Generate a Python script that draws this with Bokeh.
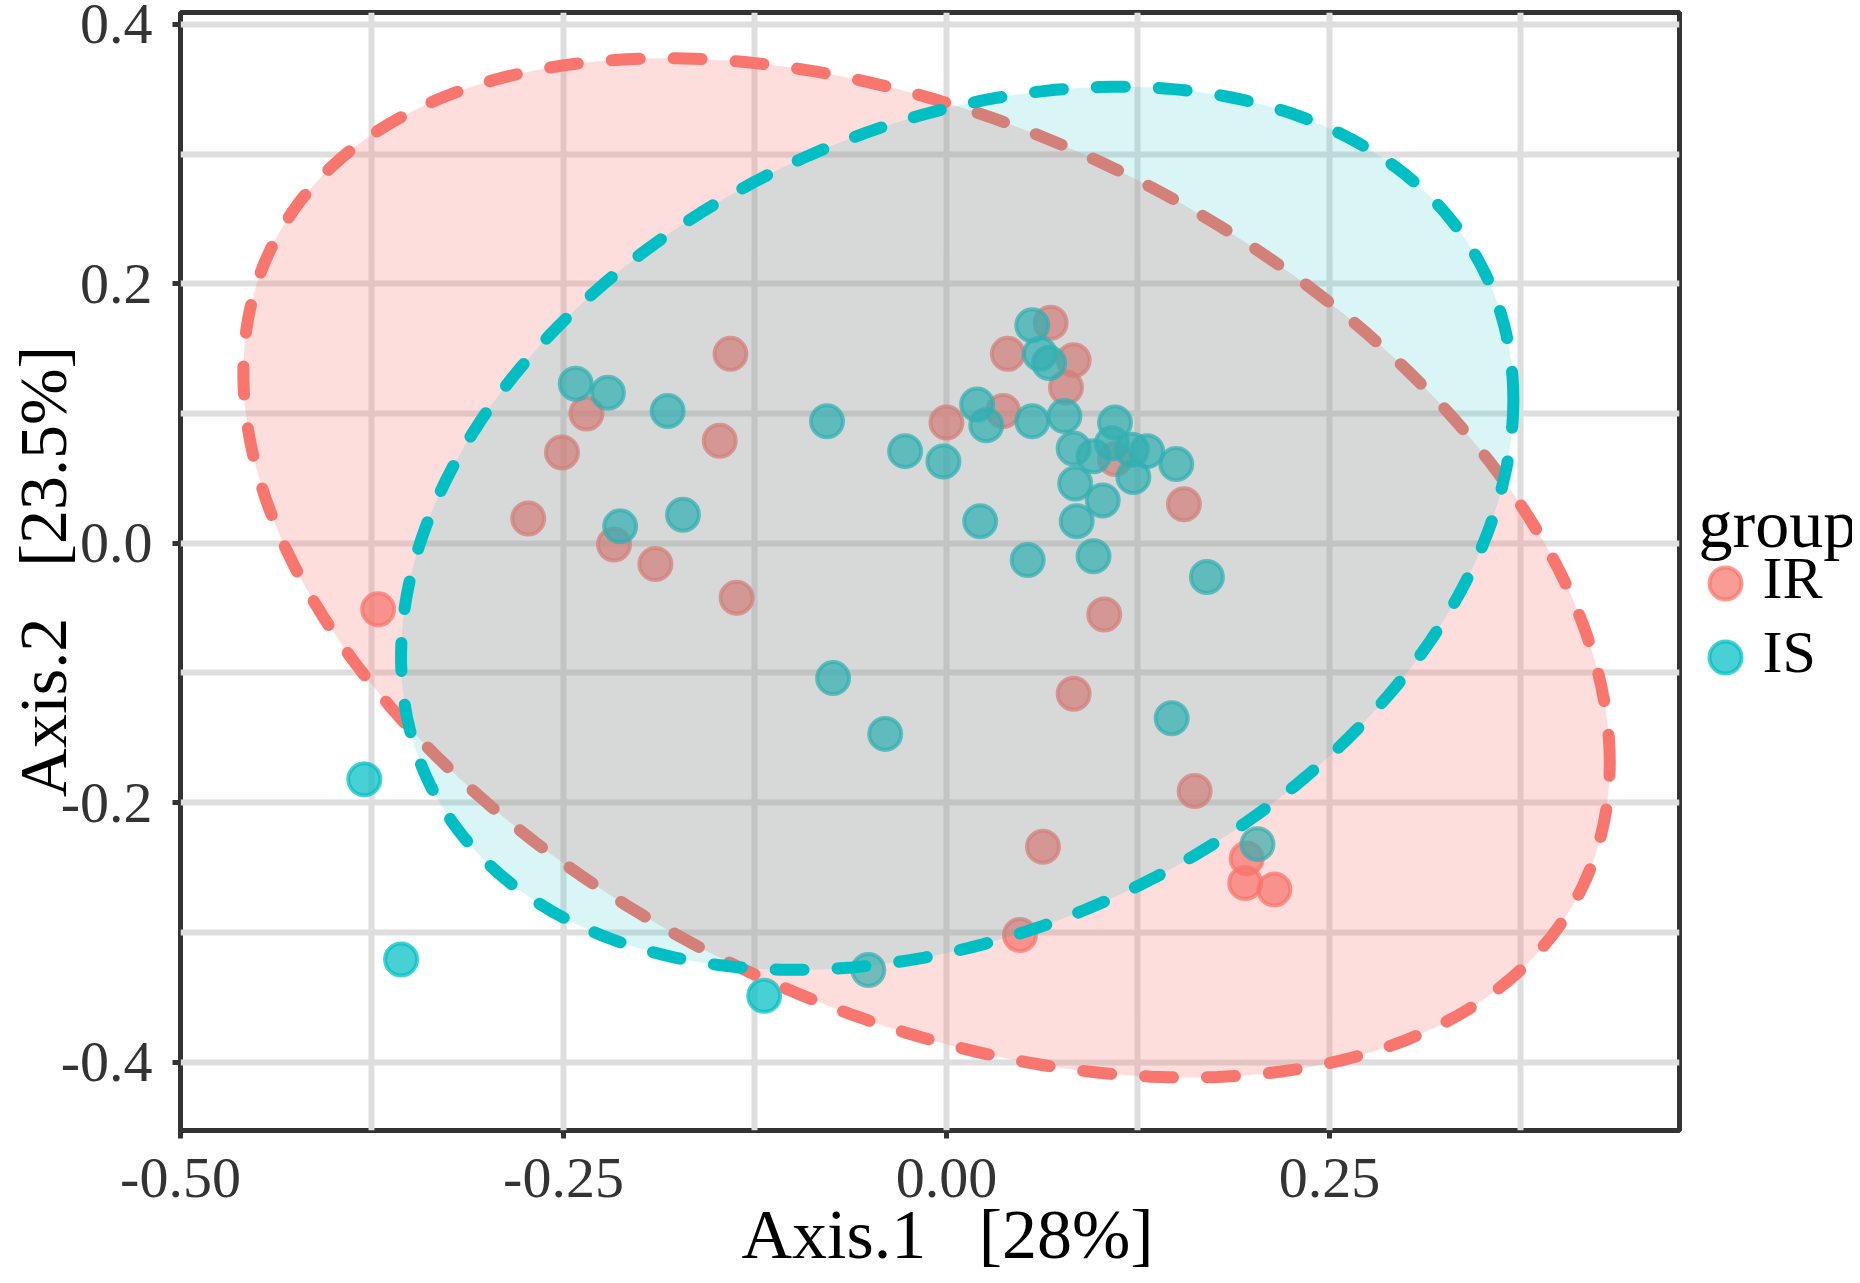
import numpy as np
from bokeh.plotting import figure
from bokeh.layouts import row
from bokeh.models import FixedTicker, PrintfTickFormatter, Range1d
from bokeh.core.properties import value
from bokeh.embed import file_html
from bokeh.resources import INLINE

# ---------------- data ----------------
groups = ["IR", "IS"]
group_colors = ["#F8766D", "#00BFC4"]

ir_x = [-0.371, -0.273, -0.251, -0.235, -0.217, -0.190, -0.148, -0.141, -0.137,
        0.000, 0.037, 0.040, 0.068, 0.083, 0.078, 0.103, 0.083, 0.155, 0.162,
        0.063, 0.048, 0.196, 0.195, 0.214, 0.110]
ir_y = [-0.051, 0.019, 0.070, 0.100, -0.001, -0.016, 0.079, 0.146, -0.042,
        0.093, 0.102, 0.146, 0.170, 0.141, 0.120, -0.055, -0.116, 0.030, -0.191,
        -0.234, -0.302, -0.243, -0.262, -0.267, 0.065]

is_x = [-0.380, -0.356, -0.242, -0.221, -0.182, -0.213, -0.172, -0.078, -0.027,
        -0.002, 0.020, 0.026, 0.022, 0.056, 0.061, 0.067, 0.056, 0.077, 0.083,
        0.096, 0.108, 0.121, 0.131, 0.110, 0.122, 0.150, 0.084, 0.102, 0.085,
        0.053, 0.096, 0.170, 0.147, 0.203, -0.074, -0.040, -0.051, -0.119]
is_y = [-0.182, -0.321, 0.123, 0.116, 0.102, 0.013, 0.022, 0.094, 0.071,
        0.063, 0.107, 0.091, 0.017, 0.168, 0.146, 0.139, 0.094, 0.098, 0.073,
        0.067, 0.077, 0.072, 0.071, 0.093, 0.051, 0.061, 0.046, 0.033, 0.017,
        -0.013, -0.010, -0.026, -0.135, -0.232, -0.104, -0.147, -0.329, -0.349]

# confidence ellipses: centre and shape matrix (var_x, cov_xy, var_y)
ir_center = [-0.013, -0.019]
ir_shape = [0.1989, -0.067, 0.1544]
is_center = [0.007, 0.0115]
is_shape = [0.1318, 0.036, 0.1159]

x_ticks = [-0.5, -0.25, 0.0, 0.25]
x_minor = [-0.375, -0.125, 0.125, 0.375]
y_ticks = [-0.4, -0.2, 0.0, 0.2, 0.4]
y_minor = [-0.3, -0.1, 0.1, 0.3]
x_title = "\u00a0\u00a0Axis.1 \u00a0 [28%]"
y_title = "Axis.2 \u00a0 [23.5%]"
legend_title = "group"

# ---------------- layout ----------------
X0, X1 = -0.5, 0.4785
Y0, Y1 = -0.4528, 0.4092
W, H = 1852, 1275
FL, FT, FR, FB = 180, 12, 1679, 1130   # frame edges in canvas px
MAIN_W = FR + 3
SERIF = "Liberation Serif"

p = figure(width=MAIN_W, height=H, output_backend="svg", toolbar_location=None,
           title=None, x_range=Range1d(X0, X1), y_range=Range1d(Y0, Y1),
           min_border_left=FL, min_border_right=MAIN_W - FR, min_border_top=FT,
           min_border_bottom=H - FB)
p.background_fill_color = "white"
p.border_fill_color = "white"
p.outline_line_color = "#333333"
p.outline_line_width = 5

p.xaxis.ticker = FixedTicker(ticks=x_ticks, minor_ticks=x_minor)
p.yaxis.ticker = FixedTicker(ticks=y_ticks, minor_ticks=y_minor)
p.xaxis.formatter = PrintfTickFormatter(format="%.2f")
p.yaxis.formatter = PrintfTickFormatter(format="%.1f")
for ax in (p.xaxis, p.yaxis):
    ax.axis_line_color = None
    ax.major_tick_line_color = "#333333"
    ax.major_tick_line_width = 5
    ax.major_tick_out = 8
    ax.major_tick_in = 0
    ax.minor_tick_line_color = None
    ax.major_label_text_font = SERIF
    ax.major_label_text_font_size = "58px"
    ax.major_label_text_color = "#333333"
    ax.axis_label_text_font = SERIF
    ax.axis_label_text_font_style = "normal"
    ax.axis_label_text_color = "black"
p.xaxis.axis_label_text_font_size = "70px"
p.yaxis.axis_label_text_font_size = "68px"
p.xaxis.major_label_standoff = 20
p.yaxis.major_label_standoff = 20
p.xaxis.axis_label = x_title
p.yaxis.axis_label = y_title
p.xaxis.axis_label_standoff = -4
p.yaxis.axis_label_standoff = -23

for g in (p.xgrid, p.ygrid):
    g.grid_line_color = "#DEDEDE"
    g.grid_line_width = 6
    g.minor_grid_line_color = "#DEDEDE"
    g.minor_grid_line_width = 6

point_style = dict(size=32, fill_alpha=0.72, line_alpha=0.72, line_width=4)

# points
p.scatter(ir_x, ir_y, fill_color=group_colors[0], line_color=group_colors[0],
          **point_style)
p.scatter(is_x, is_y, fill_color=group_colors[1], line_color=group_colors[1],
          **point_style)

def ellipse(center, shape, n=240):
    sxx, sxy, syy = shape
    l11 = np.sqrt(sxx)
    l21 = sxy / l11
    l22 = np.sqrt(syy - l21 ** 2)
    t = np.linspace(0, 2 * np.pi, n)
    ex = center[0] + l11 * np.cos(t)
    ey = center[1] + l21 * np.cos(t) + l22 * np.sin(t)
    return ex, ey

for center, shape, col, alpha in ((ir_center, ir_shape, group_colors[0], 0.24),
                                  (is_center, is_shape, group_colors[1], 0.15)):
    ex, ey = ellipse(center, shape)
    p.patch(ex, ey, fill_color=col, fill_alpha=alpha, line_color=None)
    p.line(ex, ey, line_color=col, line_width=12, line_dash="28 34",
           line_cap="round")

# ---------------- legend panel (canvas pixel coordinates, y downward) ----------------
leg = figure(width=W - MAIN_W, height=H, output_backend="svg", toolbar_location=None,
             title=None, x_range=Range1d(MAIN_W, W), y_range=Range1d(FB, FT),
             x_axis_location=None, y_axis_location=None, min_border=0)
leg.grid.visible = False
leg.outline_line_color = None
leg.background_fill_color = "white"
leg.border_fill_color = "white"

LEG_DOT_X, LEG_TEXT_X, LEG_TITLE_X = 1725, 1762, 1698
LEG_TITLE_Y = 523
LEG_ROWS_Y = [583, 657]

leg.text([LEG_TITLE_X], [LEG_TITLE_Y], text=[legend_title], text_font=value(SERIF),
         text_font_size=value("68px"), text_color="black",
         text_align="left", text_baseline="alphabetic")
for gname, col, ry in zip(groups, group_colors, LEG_ROWS_Y):
    leg.scatter([LEG_DOT_X], [ry], fill_color=col, line_color=col, **point_style)
    leg.text([LEG_TEXT_X], [ry - 6], text=[gname], text_font=value(SERIF),
             text_font_size=value("60px"), text_color="black",
             text_align="left", text_baseline="middle")

layout = row(p, leg, spacing=0)
open("out.html", "w").write(file_html(layout, INLINE))
